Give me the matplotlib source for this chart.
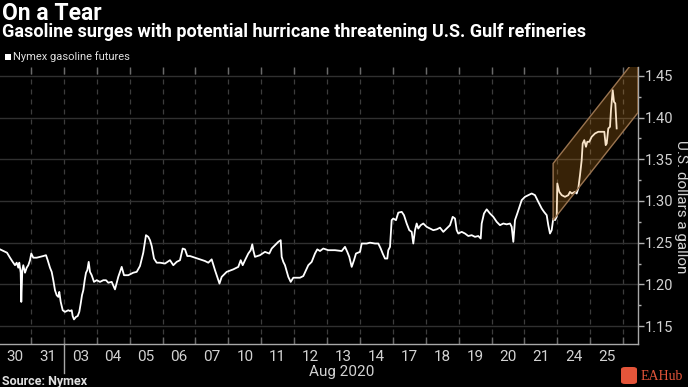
import matplotlib
matplotlib.use('Agg')
import matplotlib.pyplot as plt
import matplotlib.transforms as mtransforms
from matplotlib.patches import Polygon, FancyBboxPatch
import numpy as np

# ---------------- data ----------------
day_labels = ['30', '31', '03', '04', '05', '06', '07', '10', '11', '12',
              '13', '14', '17', '18', '19', '20', '21', '24', '25']
month_label = 'Aug 2020'
y_ticks = [1.15, 1.20, 1.25, 1.30, 1.35, 1.40, 1.45]

# time in trading-day index units (0 = Jul 30 session start)
t = [0.058, 0.271, 0.362, 0.444, 0.514, 0.565, 0.614, 0.644, 0.687, 0.705,
     0.736, 0.766, 0.818, 0.869, 0.918, 0.970, 1.009, 1.070, 1.173, 1.374,
     1.456, 1.508, 1.577, 1.629, 1.678, 1.729, 1.781, 1.830, 1.860, 1.903,
     1.964, 2.033, 2.134, 2.185, 2.237, 2.267, 2.307, 2.368, 2.419, 2.468,
     2.511, 2.550, 2.590, 2.632, 2.672, 2.711, 2.754, 2.793, 2.845, 2.915,
     2.997, 3.097, 3.198, 3.280, 3.350, 3.453, 3.553, 3.653, 3.757, 3.827,
     3.957, 4.109, 4.213, 4.313, 4.413, 4.495, 4.565, 4.617, 4.669, 4.739,
     4.821, 4.921, 5.073, 5.225, 5.325, 5.429, 5.529, 5.611, 5.681, 5.751,
     5.833, 5.985, 6.137, 6.289, 6.389, 6.492, 6.593, 6.693, 6.729, 6.796,
     6.948, 7.149, 7.301, 7.374, 7.435, 7.505, 7.605, 7.678, 7.726, 7.757,
     7.808, 7.960, 8.112, 8.243, 8.316, 8.416, 8.517, 8.590, 8.620, 8.669,
     8.720, 8.821, 8.894, 8.973, 9.176, 9.277, 9.359, 9.429, 9.532, 9.632,
     9.702, 9.784, 9.885, 10.036, 10.240, 10.444, 10.544, 10.614, 10.675, 10.748,
     10.818, 10.878, 11.000, 11.052, 11.203, 11.304, 11.456, 11.556, 11.629, 11.690,
     11.760, 11.830, 11.860, 11.912, 11.963, 12.012, 12.094, 12.164, 12.268, 12.337,
     12.419, 12.498, 12.571, 12.620, 12.672, 12.723, 12.772, 12.845, 12.924, 13.027,
     13.128, 13.228, 13.331, 13.432, 13.532, 13.635, 13.736, 13.818, 13.888, 13.939,
     13.988, 14.091, 14.191, 14.292, 14.395, 14.495, 14.596, 14.669, 14.699, 14.769,
     14.851, 14.951, 15.052, 15.155, 15.255, 15.356, 15.459, 15.559, 15.611, 15.660,
     15.711, 15.781, 15.863, 15.915, 16.015, 16.115, 16.219, 16.319, 16.419, 16.523,
     16.593, 16.675, 16.723, 16.775, 16.826, 16.875, 16.927, 16.979, 16.997, 17.058,
     17.131, 17.231, 17.331, 17.383, 17.435, 17.535, 17.586, 17.635, 17.687, 17.738,
     17.769, 17.817, 17.869, 17.909, 17.969, 18.042, 18.143, 18.243, 18.346, 18.426,
     18.468, 18.499, 18.547, 18.599, 18.629, 18.681, 18.720, 18.760, 18.802]

price = [1.242, 1.238, 1.232, 1.227, 1.223, 1.226, 1.220, 1.226, 1.214, 1.179,
         1.217, 1.223, 1.214, 1.220, 1.223, 1.229, 1.237, 1.232, 1.232, 1.234,
         1.235, 1.229, 1.220, 1.215, 1.205, 1.193, 1.187, 1.185, 1.191, 1.179,
         1.169, 1.167, 1.169, 1.168, 1.169, 1.162, 1.158, 1.161, 1.162, 1.167,
         1.177, 1.187, 1.193, 1.205, 1.214, 1.217, 1.227, 1.215, 1.211, 1.203,
         1.205, 1.203, 1.205, 1.205, 1.202, 1.203, 1.194, 1.209, 1.221, 1.211,
         1.211, 1.214, 1.215, 1.222, 1.238, 1.259, 1.257, 1.253, 1.246, 1.231,
         1.226, 1.226, 1.225, 1.229, 1.223, 1.227, 1.229, 1.243, 1.242, 1.234,
         1.234, 1.232, 1.230, 1.228, 1.226, 1.230, 1.217, 1.205, 1.201, 1.209,
         1.215, 1.218, 1.221, 1.229, 1.223, 1.229, 1.237, 1.241, 1.248, 1.241,
         1.233, 1.235, 1.239, 1.237, 1.243, 1.247, 1.251, 1.253, 1.233, 1.227,
         1.223, 1.209, 1.203, 1.208, 1.208, 1.210, 1.217, 1.223, 1.227, 1.237,
         1.242, 1.240, 1.243, 1.241, 1.241, 1.240, 1.245, 1.239, 1.233, 1.221,
         1.229, 1.237, 1.239, 1.249, 1.249, 1.250, 1.249, 1.249, 1.243, 1.237,
         1.231, 1.231, 1.241, 1.245, 1.277, 1.279, 1.277, 1.286, 1.287, 1.283,
         1.273, 1.265, 1.263, 1.249, 1.265, 1.273, 1.267, 1.271, 1.273, 1.269,
         1.267, 1.265, 1.266, 1.268, 1.263, 1.267, 1.271, 1.281, 1.279, 1.265,
         1.261, 1.263, 1.261, 1.258, 1.259, 1.257, 1.258, 1.255, 1.273, 1.285,
         1.290, 1.285, 1.281, 1.275, 1.271, 1.273, 1.272, 1.273, 1.269, 1.251,
         1.277, 1.285, 1.295, 1.301, 1.305, 1.307, 1.309, 1.307, 1.299, 1.291,
         1.287, 1.283, 1.271, 1.261, 1.265, 1.279, 1.277, 1.281, 1.321, 1.311,
         1.307, 1.305, 1.307, 1.311, 1.309, 1.311, 1.309, 1.315, 1.331, 1.349,
         1.369, 1.373, 1.365, 1.371, 1.371, 1.377, 1.381, 1.383, 1.383, 1.383,
         1.367, 1.369, 1.387, 1.389, 1.409, 1.433, 1.419, 1.417, 1.387]

# trend channel annotation
channel_start = 16.87
channel_low = 1.277
channel_high = 1.345
channel_slope = 0.05   # dollars per trading day

# ---------------- style ----------------
plt.rcParams['font.family'] = ['Roboto', 'DejaVu Sans']

W, H = 688, 387
fig = plt.figure(figsize=(W / 100, H / 100), dpi=100, facecolor='black')

x_left, x_right = 0.058, 19.45
y_bot, y_top = 1.1285, 1.4607

ax = fig.add_axes([0, (H - 344) / H, 638 / W, (344 - 67) / H])
ax.set_facecolor('black')
ax.set_xlim(x_left, x_right)
ax.set_ylim(y_bot, y_top)

ax.plot(t, price, color='white', lw=1.3, zorder=3, solid_joinstyle='round')

# channel
xe = x_right
poly = [(channel_start, channel_low), (channel_start, channel_high),
        (xe, channel_high + channel_slope * (xe - channel_start)),
        (xe, channel_low + channel_slope * (xe - channel_start))]
ax.add_patch(Polygon(poly, closed=True, facecolor='#e8901e', alpha=0.24,
                     edgecolor='none', zorder=4))
ax.add_patch(Polygon(poly, closed=True, facecolor='none',
                     edgecolor='#9a7450', lw=1.0, zorder=5))

# grid
ax.set_yticks(y_ticks)
ax.set_yticks(np.arange(1.175, 1.46, 0.05), minor=True)
ax.set_xticks(np.arange(1, 20))
ax.set_xticks(np.arange(len(day_labels)) + 0.5, minor=True)
ax.set_xticklabels([])
ax.set_xticklabels(day_labels, minor=True)
ax.grid(axis='y', which='major', color='#303030', lw=1.0, ls='-', zorder=1)
ax.grid(axis='x', which='major', color='#3c3c3c', lw=0.9, ls=(0, (4, 4)), zorder=1)

ax.yaxis.tick_right()
ax.tick_params(axis='y', which='major', direction='out', length=4, width=1,
               color='#b0b0b0', labelcolor='#d2d2d2', labelsize=10.5, pad=1)
ax.tick_params(axis='y', which='minor', direction='out', length=2, width=1,
               color='#b0b0b0')
ax.yaxis.set_major_formatter(matplotlib.ticker.FormatStrFormatter('%.2f'))
ax.tick_params(axis='x', which='major', direction='in', length=5, width=1,
               color='#6a6a6a', top=True, bottom=True)
ax.tick_params(axis='x', which='minor', length=0, labelcolor='#d2d2d2',
               labelsize=11, pad=4)

for s in ['left', 'top']:
    ax.spines[s].set_visible(False)
for s in ['right', 'bottom']:
    ax.spines[s].set_color('#a8a8a8')
    ax.spines[s].set_linewidth(1.0)

# month separator and label
trans = mtransforms.blended_transform_factory(ax.transData, ax.transAxes)
ax.plot([2, 2], [0, -0.105], transform=trans, clip_on=False, color='#a8a8a8', lw=1)
ax.text(10.45, -0.10, month_label, transform=trans, ha='center', va='center',
        color='#d2d2d2', fontsize=11)


def fx(px):
    return px / W


def fy(py):
    return 1 - py / H


fig.text(fx(680.5), fy(207), 'U.S. dollars a gallon', rotation=270, color='#d2d2d2',
         fontsize=11, ha='center', va='center')

fig.text(fx(2), fy(2), 'On a Tear', color='white', fontsize=16.5,
         fontweight='bold', va='top', ha='left')
fig.text(fx(2), fy(23), 'Gasoline surges with potential hurricane threatening U.S. Gulf refineries',
         color='white', fontsize=13, fontweight='bold', va='top', ha='left')
fig.patches.append(FancyBboxPatch((fx(5), fy(60)), fx(6), 6 / H, boxstyle='square,pad=0',
                                  transform=fig.transFigure, facecolor='white',
                                  edgecolor='none'))
fig.text(fx(13), fy(57), 'Nymex gasoline futures', color='#e0e0e0', fontsize=8,
         va='center', ha='left')
fig.text(fx(2), fy(381), 'Source: Nymex', color='#e0e0e0', fontsize=9,
         fontweight='bold', va='center', ha='left')

# watermark
fig.patches.append(FancyBboxPatch((fx(621), fy(384)), fx(16), 17 / H,
                                  boxstyle='round,pad=0,rounding_size=0.006',
                                  transform=fig.transFigure, facecolor='#e4553a',
                                  edgecolor='none'))
fig.text(fx(641), fy(376), 'EAHub', color='#e4553a', fontsize=10,
         family=['Liberation Serif', 'DejaVu Serif'], va='center', ha='left')

fig.savefig('out.png', dpi=100, facecolor='black')
